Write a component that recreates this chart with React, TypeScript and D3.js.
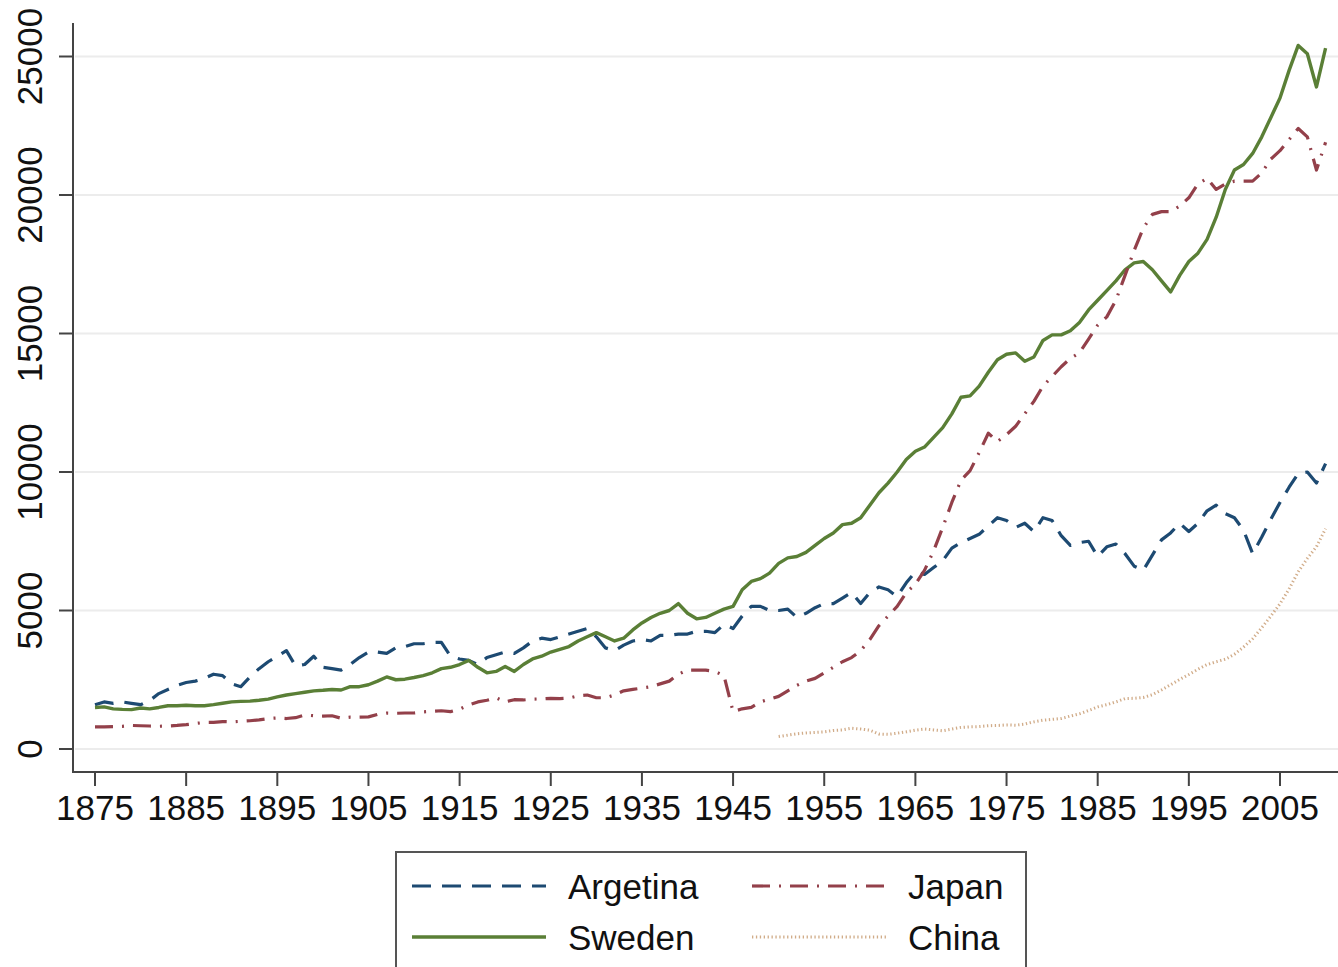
import React from "react";
import * as d3 from "d3";

// GDP per capita series, one value per year
const argYears = d3.range(1875, 2011);
const argentina = [
  1600, 1700, 1650, 1700, 1650, 1600, 1750, 2000, 2150, 2300,
  2400, 2450, 2550, 2700, 2650, 2350, 2250, 2600, 2900, 3150,
  3350, 3550, 3000, 3050, 3350, 2950, 2900, 2850, 3050, 3300,
  3500, 3500, 3450, 3650, 3700, 3800, 3800, 3850, 3850, 3350,
  3250, 3200, 3050, 3300, 3400, 3500, 3450, 3650, 3900, 4000,
  3950, 4050, 4150, 4250, 4350, 4050, 3650, 3550, 3750, 3900,
  3950, 3900, 4100, 4100, 4150, 4150, 4250, 4250, 4200, 4500,
  4350, 4800, 5150, 5150, 5000, 5000, 5050, 4750, 4900, 5100,
  5250, 5250, 5450, 5650, 5250, 5650, 5850, 5750, 5500, 6000,
  6400, 6300, 6550, 6800, 7250, 7450, 7600, 7750, 8050, 8350,
  8250, 8000, 8150, 7850, 8350, 8250, 7700, 7350, 7450, 7500,
  6950, 7300, 7400, 7050, 6600, 6450, 7000, 7550, 7800, 8150,
  7850, 8150, 8600, 8800, 8500, 8350, 7900, 7050, 7650, 8300,
  8900, 9450, 9950, 10000, 9600, 10300,
];
const sweden = [
  1500, 1520, 1450, 1430, 1420, 1480, 1450, 1500, 1560, 1560,
  1580, 1560, 1560, 1600, 1650, 1700, 1720, 1730, 1760, 1800,
  1880, 1950, 2000, 2050, 2100, 2120, 2150, 2130, 2250, 2250,
  2320, 2450, 2600, 2500, 2520, 2580, 2650, 2750, 2900, 2950,
  3050, 3200, 2950, 2750, 2800, 2980, 2800, 3050, 3250, 3350,
  3500, 3600, 3700, 3900, 4050, 4200, 4050, 3900, 4000, 4300,
  4550, 4750, 4900, 5000, 5250, 4900, 4700, 4750, 4900, 5050,
  5150, 5750, 6050, 6150, 6350, 6700, 6900, 6950, 7100, 7350,
  7600, 7800, 8100, 8150, 8350, 8800, 9250, 9600, 10000, 10450,
  10750, 10900, 11250, 11600, 12100, 12700, 12750, 13100, 13600, 14050,
  14250, 14300, 14000, 14150, 14750, 14950, 14950, 15100, 15400, 15850,
  16200, 16550, 16900, 17300, 17550, 17600, 17300, 16900, 16500, 17100,
  17600, 17900, 18400, 19200, 20200, 20900, 21100, 21500, 22100, 22800,
  23500, 24500, 25400, 25100, 23900, 25300,
];
const japan = [
  800, 800, 810, 820, 850, 840, 830, 820, 830, 850,
  880, 920, 960, 960, 990, 980, 1000, 1020, 1050, 1100,
  1120, 1100, 1130, 1230, 1200, 1190, 1200, 1110, 1150, 1150,
  1160, 1250, 1300, 1290, 1300, 1300, 1340, 1360, 1380, 1350,
  1440, 1590, 1700, 1760, 1850, 1700, 1780, 1770, 1800, 1810,
  1830, 1820, 1840, 1920, 1950, 1850, 1850, 1950, 2100, 2150,
  2200, 2250, 2350, 2450, 2700, 2850, 2850, 2850, 2800, 2650,
  1350, 1450, 1500, 1700, 1800, 1900, 2100, 2300, 2450, 2550,
  2750, 2950, 3150, 3300, 3550, 3950, 4450, 4800, 5150, 5650,
  5950, 6450, 7150, 8000, 8900, 9700, 10050, 10700, 11400, 11100,
  11350, 11650, 12100, 12550, 13100, 13450, 13800, 14100, 14300, 14800,
  15300, 15600, 16200, 17100, 18000, 18800, 19300, 19400, 19400, 19600,
  19900, 20400, 20600, 20200, 20400, 20500, 20500, 20500, 20800, 21300,
  21600, 22000, 22400, 22100, 20900, 21900,
];
const chinaYears = d3.range(1950, 2011);
const china = [
  450, 500, 550, 580, 600, 620, 670, 690, 750, 720,
  680, 540, 530, 570, 620, 680, 720, 690, 660, 720,
  780, 800, 810, 840, 850, 870, 860, 900, 980, 1040,
  1070, 1100, 1190, 1270, 1390, 1520, 1600, 1700, 1820, 1830,
  1860, 1960, 2130, 2320, 2510, 2690, 2880, 3050, 3150, 3240,
  3420, 3680, 3980, 4380, 4800, 5240, 5780, 6400, 6880, 7300,
  7950,
];

const xTicks = d3.range(1875, 2006, 10);
const yTicks = [0, 5000, 10000, 15000, 20000, 25000];

const W = 1338;
const H = 967;
const font = "'Liberation Sans', Arial, Helvetica, sans-serif";

const series = [
  { name: "Argetina", years: argYears, values: argentina, color: "#1d4a72", dash: "19 11", width: 3.2, opacity: 1 },
  { name: "Sweden", years: argYears, values: sweden, color: "#5a7f36", dash: "", width: 3.4, opacity: 1 },
  { name: "Japan", years: argYears, values: japan, color: "#93404a", dash: "18 9 2 9", width: 3.2, opacity: 1 },
  { name: "China", years: chinaYears, values: china, color: "#c99e74", dash: "1.3 2.6", width: 3, opacity: 0.85 },
];

export default function App() {
  const x = d3.scaleLinear().domain([1875, 2005]).range([95, 1280]);
  const y = d3.scaleLinear().domain([0, 25000]).range([749, 56.5]);
  const axisLeft = 73;
  const axisBottom = 772;
  const line = d3
    .line<[number, number]>()
    .x((d) => x(d[0]))
    .y((d) => y(d[1]));

  const legendRows = [
    { item: series[0], lx: 412, tx: 568, ly: 886 },
    { item: series[2], lx: 752, tx: 908, ly: 886 },
    { item: series[1], lx: 412, tx: 568, ly: 937 },
    { item: series[3], lx: 752, tx: 908, ly: 937 },
  ];

  return (
    <svg
      width={W}
      height={H}
      style={{ position: "absolute", left: 0, top: 0, display: "block", background: "#fff" }}
    >
      <rect x={0} y={0} width={W} height={H} fill="#fff" />
      {/* horizontal grid */}
      {yTicks.map((t) => (
        <line key={"g" + t} x1={axisLeft + 2} x2={W} y1={y(t)} y2={y(t)} stroke="#ececec" strokeWidth={2} />
      ))}
      {/* data lines */}
      {series.map((s) => (
        <path
          key={s.name}
          d={line(s.years.map((yr, i) => [yr, s.values[i]] as [number, number])) || ""}
          fill="none"
          stroke={s.color}
          strokeWidth={s.width}
          strokeDasharray={s.dash || undefined}
          strokeLinejoin="round"
          opacity={s.opacity}
        />
      ))}
      {/* axes */}
      <line x1={axisLeft} x2={axisLeft} y1={23} y2={axisBottom} stroke="#444" strokeWidth={2} />
      <line x1={axisLeft - 1} x2={W} y1={axisBottom} y2={axisBottom} stroke="#444" strokeWidth={2} />
      {yTicks.map((t) => (
        <g key={"y" + t}>
          <line x1={59} x2={axisLeft} y1={y(t)} y2={y(t)} stroke="#444" strokeWidth={2} />
          <text
            transform={`translate(42,${y(t)}) rotate(-90)`}
            textAnchor="middle"
            fontFamily={font}
            fontSize={35}
            fill="#111"
          >
            {t}
          </text>
        </g>
      ))}
      {xTicks.map((t) => (
        <g key={"x" + t}>
          <line x1={x(t)} x2={x(t)} y1={axisBottom} y2={786} stroke="#444" strokeWidth={2} />
          <text x={x(t)} y={820} textAnchor="middle" fontFamily={font} fontSize={35} fill="#111">
            {t}
          </text>
        </g>
      ))}
      {/* legend */}
      <rect x={396} y={852} width={630} height={130} fill="#fff" stroke="#555" strokeWidth={2} />
      {legendRows.map(({ item, lx, tx, ly }) => (
        <g key={"l" + item.name}>
          <line
            x1={lx}
            x2={lx + 134}
            y1={ly}
            y2={ly}
            stroke={item.color}
            strokeWidth={item.width}
            strokeDasharray={item.dash || undefined}
            opacity={item.opacity}
          />
          <text x={tx} y={ly + 13} fontFamily={font} fontSize={35} fill="#111">
            {item.name}
          </text>
        </g>
      ))}
    </svg>
  );
}
